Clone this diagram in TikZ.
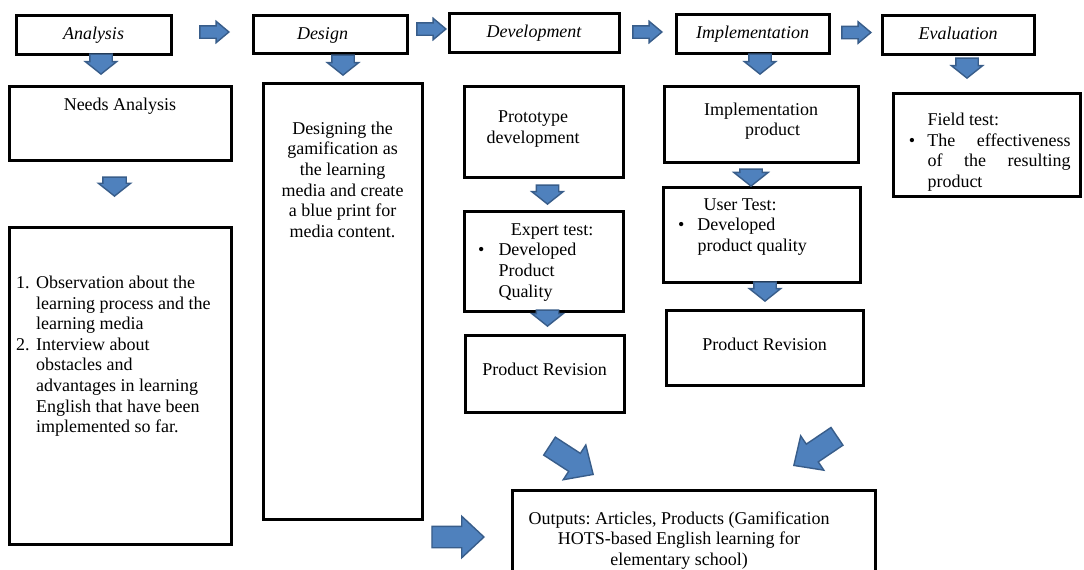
\documentclass[tikz,border=0pt]{standalone}
\usepackage{fontspec}
\setmainfont{Liberation Serif}
\usetikzlibrary{shapes.arrows}
\definecolor{arrowblue}{HTML}{4F81BD}
\definecolor{arrowedge}{HTML}{385D8A}
\frenchspacing
\begin{document}
\begin{tikzpicture}[x=1pt,y=-1pt,
  font=\fontsize{18}{20.6}\selectfont,
  box/.style={draw, line width=3pt, fill=white, inner sep=0pt},
  phase/.style={box, font=\fontsize{18}{20.6}\selectfont\itshape, text height=13.5pt, text depth=3.5pt},
  txt/.style={inner sep=0pt},
  blk/.style={single arrow, draw=arrowedge, fill=arrowblue, line width=1.4pt, inner sep=0pt, minimum width=0pt, anchor=tip},
  harr/.style={blk, minimum height=29pt, inner ysep=5.5pt, single arrow head extend=4.5pt, single arrow tip angle=80},
  varr/.style={blk, minimum height=20pt, inner ysep=10.5pt, single arrow head extend=4.5pt, single arrow tip angle=103, rotate=-90},
  bigarr/.style={blk, minimum height=52pt, inner ysep=10pt, single arrow head extend=10pt, single arrow tip angle=86}]
\clip (0,0) rectangle (1084,570);
\fill[white] (0,0) rectangle (1084,570);

% phase boxes
\node[phase, minimum width=155pt, minimum height=39pt] (analysis) at (93.5,34.5) {Analysis};
\node[phase, minimum width=154pt, minimum height=38pt] (design) at (330,34) {Design\hspace*{15pt}};
\node[phase, minimum width=170pt, minimum height=39pt] (development) at (534,32.5) {Development};
\node[phase, minimum width=153pt, minimum height=39pt] (implementation) at (752.5,33.5) {Implementation};
\node[phase, minimum width=152pt, minimum height=39pt] (evaluation) at (958,34.5) {Evaluation};

% content boxes
\node[box, minimum width=222pt, minimum height=74pt] (needs) at (120,123) {};
\node[box, minimum width=222pt, minimum height=317pt] (list) at (120,385.5) {};
\node[box, minimum width=159pt, minimum height=436pt] (designbox) at (342.5,301) {};
\node[box, minimum width=159pt, minimum height=91pt] (proto) at (543.5,131.5) {};
\node[box, minimum width=159pt, minimum height=100pt] (expert) at (543.5,261) {};
\node[box, minimum width=159pt, minimum height=77pt] (revL) at (544.5,373.5) {};
\node[box, minimum width=194pt, minimum height=76pt] (implprod) at (761,124) {};
\node[box, minimum width=197pt, minimum height=95pt] (user) at (761.5,234.5) {};
\node[box, minimum width=197pt, minimum height=75pt] (revR) at (764.5,347.5) {};
\node[box, minimum width=187pt, minimum height=103pt] (field) at (986.5,144.5) {};
\node[box, minimum width=363pt, minimum height=110pt] (output) at (693.5,545) {};

% texts
\node[txt, anchor=base] (needsT) at (120,110) {Needs Analysis};
\node[txt, anchor=north west] (listT) at (16,273.9) {\begin{tabular}{@{}l@{\hspace{6.5pt}}l@{}}
1. & Observation about the\\
 & learning process and the\\
 & learning media\\
2. & Interview about\\
 & obstacles and\\
 & advantages in learning\\
 & English that have been\\
 & implemented so far.
\end{tabular}};
\node[txt, anchor=north] (designT) at (342.5,119.6) {\begin{tabular}{@{}c@{}}Designing the\\gamification as\\the learning\\media and create\\a blue print for\\media content.\end{tabular}};
\node[txt, anchor=north] (protoT) at (533,108.3) {\begin{tabular}{@{}c@{}}Prototype\\development\end{tabular}};
\node[txt, anchor=north] (implT) at (761,100.6) {\begin{tabular}{@{}c@{}}Implementation\\\hspace*{23pt}product\end{tabular}};
\node[txt, anchor=north west] (expertT) at (477.9,220.6) {\begin{tabular}{@{}l@{}}\hspace*{32.8pt}Expert test:\\\makebox[20.4pt][l]{\textbullet}Developed\\\hspace*{20.4pt}Product\\\hspace*{20.4pt}Quality\end{tabular}};
\node[txt, anchor=north west] (userT) at (677.9,195.6) {\begin{tabular}{@{}l@{}}\hspace*{25.4pt}User Test:\\\makebox[19.4pt][l]{\textbullet}Developed\\\hspace*{19.4pt}product quality\end{tabular}};
\node[txt, anchor=north west] (fieldT) at (908.6,111) {\begin{tabular}{@{}l@{}}\hspace*{18.7pt}Field test:\\\makebox[18.7pt][l]{\textbullet}\makebox[143pt][s]{The effectiveness}\\\hspace*{18.7pt}\makebox[143pt][s]{of the resulting}\\\hspace*{18.7pt}product\end{tabular}};
\node[txt, anchor=base] (revLT) at (544.5,375.7) {Product Revision};
\node[txt, anchor=base] (revRT) at (764.5,350) {Product Revision};
\node[txt, anchor=north] (outputT) at (679,509.6) {\begin{tabular}{@{}c@{}}Outputs: Articles, Products (Gamification\\HOTS-based English learning for\\elementary school)\end{tabular}};

% horizontal block arrows
\node[harr] (h1) at (230,32) {};
\node[harr] (h2) at (447,29) {};
\node[harr] (h3) at (663,32) {};
\node[harr] (h4) at (872,32.5) {};
% down block arrows
\node[varr] (dAn) at (101,75) {};
\node[varr] (dDe) at (343,76) {};
\node[varr] (dIm) at (760,75) {};
\node[varr] (dEv) at (967,79) {};
\node[varr, minimum height=19pt, inner ysep=11pt] (dNe) at (114.5,197) {};
\node[varr, minimum height=19pt] (dPr) at (547.5,205) {};
\node[varr, minimum height=16pt] (dEx) at (547.5,327) {};
\node[varr, minimum height=17pt, single arrow head extend=6pt] (dIp) at (751,187) {};
\node[varr, minimum height=19pt] (dUs) at (765,302) {};
% big block arrows
\node[bigarr] (bR) at (485,537) {};
\node[bigarr, rotate=-33] (bL) at (594,475) {};
\node[bigarr, rotate=-146] (bRt) at (793,466) {};
\end{tikzpicture}
\end{document}
